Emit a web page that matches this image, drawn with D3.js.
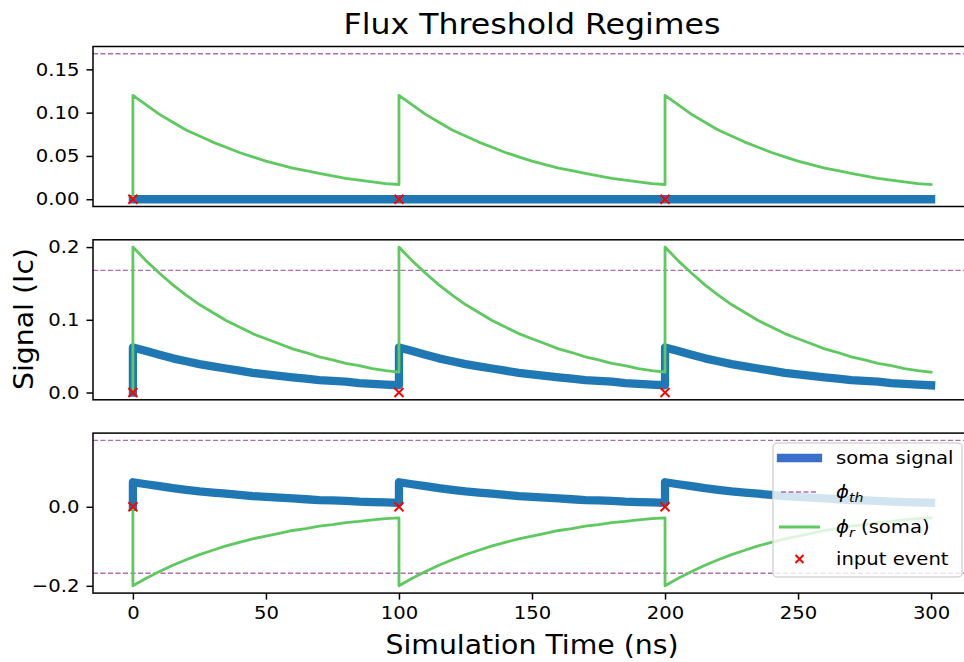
<!DOCTYPE html>
<html>
<head>
<meta charset="utf-8">
<script src="https://cdn.jsdelivr.net/npm/d3@7"></script>
<style>
  body { margin: 0; background: #fff; }
  text { font-family: "DejaVu Sans", sans-serif; fill: #000; }
</style>
</head>
<body>
<div id="chart"></div>
<script>
const width = 964, height = 662;

// shared sample times (ns); each event time appears twice: value before / after the jump
const time = [
  0, 0, 5, 10, 15, 20, 25, 30, 35, 40, 45, 50, 55, 60, 65, 70, 75, 80, 85, 90, 95,
  100, 100, 105, 110, 115, 120, 125, 130, 135, 140, 145, 150, 155, 160, 165, 170, 175, 180, 185, 190, 195,
  200, 200, 205, 210, 215, 220, 225, 230, 235, 240, 245, 250, 255, 260, 265, 270, 275, 280, 285, 290, 295,
  300
];

// panel 1: soma stays flat, phi_r below threshold
const somaTopTime = [0, 300];
const somaTop = [0, 0];
const phiTop = [
  0, 0.120, 0.109, 0.098, 0.089, 0.080, 0.073, 0.066, 0.060, 0.054, 0.049, 0.044, 0.040, 0.036, 0.033, 0.030, 0.027, 0.024, 0.022, 0.020, 0.018,
  0.017, 0.120, 0.109, 0.098, 0.089, 0.080, 0.073, 0.066, 0.060, 0.054, 0.049, 0.044, 0.040, 0.036, 0.033, 0.030, 0.027, 0.024, 0.022, 0.020, 0.018,
  0.017, 0.120, 0.109, 0.098, 0.089, 0.080, 0.073, 0.066, 0.060, 0.054, 0.049, 0.044, 0.040, 0.036, 0.033, 0.030, 0.027, 0.024, 0.022, 0.020, 0.018,
  0.017
];

// panel 2 / 3: soma responds
const soma = [
  0, 0.062, 0.057, 0.052, 0.047, 0.043, 0.039, 0.036, 0.033, 0.030, 0.027, 0.025, 0.023, 0.021, 0.019, 0.017, 0.016, 0.015, 0.013, 0.012, 0.011,
  0.010, 0.062, 0.057, 0.052, 0.047, 0.043, 0.039, 0.036, 0.033, 0.030, 0.027, 0.025, 0.023, 0.021, 0.019, 0.017, 0.016, 0.015, 0.013, 0.012, 0.011,
  0.010, 0.062, 0.057, 0.052, 0.047, 0.043, 0.039, 0.036, 0.033, 0.030, 0.027, 0.025, 0.023, 0.021, 0.019, 0.017, 0.016, 0.015, 0.013, 0.012, 0.011,
  0.010
];
const phiMid = [
  0, 0.200, 0.181, 0.164, 0.148, 0.134, 0.121, 0.110, 0.099, 0.090, 0.081, 0.074, 0.067, 0.060, 0.055, 0.049, 0.045, 0.040, 0.037, 0.033, 0.030,
  0.028, 0.200, 0.181, 0.164, 0.148, 0.134, 0.121, 0.110, 0.099, 0.090, 0.081, 0.074, 0.067, 0.060, 0.055, 0.049, 0.045, 0.040, 0.037, 0.033, 0.030,
  0.028, 0.200, 0.181, 0.164, 0.148, 0.134, 0.121, 0.110, 0.099, 0.090, 0.081, 0.074, 0.067, 0.060, 0.055, 0.049, 0.045, 0.040, 0.037, 0.033, 0.030,
  0.028
];
const phiBot = [
  0, -0.200, -0.181, -0.164, -0.148, -0.134, -0.121, -0.110, -0.099, -0.090, -0.081, -0.074, -0.067, -0.060, -0.055, -0.049, -0.045, -0.040, -0.037, -0.033, -0.030,
  -0.028, -0.200, -0.181, -0.164, -0.148, -0.134, -0.121, -0.110, -0.099, -0.090, -0.081, -0.074, -0.067, -0.060, -0.055, -0.049, -0.045, -0.040, -0.037, -0.033, -0.030,
  -0.028, -0.200, -0.181, -0.164, -0.148, -0.134, -0.121, -0.110, -0.099, -0.090, -0.081, -0.074, -0.067, -0.060, -0.055, -0.049, -0.045, -0.040, -0.037, -0.033, -0.030,
  -0.028
];

const eventTimes = [0, 100, 200];
const thresholdsTop = [0.168];
const thresholdsMid = [0.168];
const thresholdsBot = [0.168, -0.168];

const yTicksTop = [0, 0.05, 0.10, 0.15];
const yTicksMid = [0, 0.1, 0.2];
const yTicksBot = [-0.2, 0];
const xTicks = [0, 50, 100, 150, 200, 250, 300];

const panels = [
  { somaT: somaTopTime, soma: somaTop, phiT: time, phi: phiTop, th: thresholdsTop, ticks: yTicksTop, fmt: ".2f" },
  { somaT: time, soma: soma, phiT: time, phi: phiMid, th: thresholdsMid, ticks: yTicksMid, fmt: ".1f" },
  { somaT: time, soma: soma, phiT: time, phi: phiBot, th: thresholdsBot, ticks: yTicksBot, fmt: ".1f" }
];

const left = 93, plotW = 878, plotH = 160;
const tops = [46.5, 239.8, 433.1];
const blue = "#1f77b4", green = "#5ec95e", purple = "#b36ab3";
const stretch = "scale(1.09,1)";   // reference glyphs are a bit wider than DejaVu

const svg = d3.select("#chart").append("svg")
  .attr("width", width)
  .attr("height", height);

// matplotlib-like 5% margins
const pad = ([a, b]) => [a - (b - a) * 0.05, b + (b - a) * 0.05];

const x = d3.scaleLinear()
  .domain(pad(d3.extent(time)))
  .range([0, plotW]);

panels.forEach((p, i) => {
  const g = svg.append("g").attr("transform", `translate(${left},${tops[i]})`);

  const y = d3.scaleLinear()
    .domain(pad(d3.extent([...p.soma, ...p.phi, ...p.th])))
    .range([plotH, 0]);

  g.append("clipPath").attr("id", "clip" + i)
    .append("rect").attr("width", plotW).attr("height", plotH);

  const plot = g.append("g").attr("clip-path", `url(#clip${i})`);

  // thresholds
  plot.selectAll(".th").data(p.th).join("line")
    .attr("x1", 0).attr("x2", plotW)
    .attr("y1", d => y(d)).attr("y2", d => y(d))
    .attr("stroke", purple)
    .attr("stroke-width", 1.4)
    .attr("stroke-dasharray", "5,2.5");

  const line = d3.line().x(d => x(d[0])).y(d => y(d[1]));

  plot.append("path")
    .datum(d3.zip(p.somaT, p.soma))
    .attr("fill", "none")
    .attr("stroke", blue)
    .attr("stroke-width", 8.3)
    .attr("stroke-linecap", "square")
    .attr("stroke-linejoin", "round")
    .attr("d", line);

  plot.append("path")
    .datum(d3.zip(p.phiT, p.phi))
    .attr("fill", "none")
    .attr("stroke", green)
    .attr("stroke-width", 2.8)
    .attr("stroke-linecap", "square")
    .attr("stroke-linejoin", "round")
    .attr("d", line);

  plot.selectAll(".ev").data(eventTimes).join("path")
    .attr("transform", d => `translate(${x(d)},${y(0)})`)
    .attr("d", "M-4.5,-4.5L4.5,4.5M-4.5,4.5L4.5,-4.5")
    .attr("stroke", "red")
    .attr("stroke-width", 2);

  // AXIS
  const ya = g.append("g").call(d3.axisLeft(y).tickValues(p.ticks)
    .tickFormat(d3.format(p.fmt)).tickSize(6.5).tickPadding(6));
  ya.select(".domain").remove();
  ya.selectAll("line").attr("stroke-width", 1.5);
  ya.selectAll("text").style("font-size", "18px").attr("transform", stretch);

  if (i === 2) {
    const xa = g.append("g").attr("transform", `translate(0,${plotH})`)
      .call(d3.axisBottom(x).tickValues(xTicks).tickSize(6.5).tickPadding(7));
    xa.select(".domain").remove();
    xa.selectAll("line").attr("stroke-width", 1.5);
    xa.selectAll("text").style("font-size", "18px").attr("transform", stretch);
  }

  // spines
  g.append("rect")
    .attr("width", plotW).attr("height", plotH)
    .attr("fill", "none").attr("stroke", "#000").attr("stroke-width", 1.5);

  // LEGEND
  if (i === 2) {
    const lg = g.append("g").attr("transform", `translate(${773 - left},${443 - tops[i]})`);
    lg.append("rect")
      .attr("width", 189).attr("height", 134).attr("rx", 4)
      .attr("fill", "#fff").attr("fill-opacity", 0.8)
      .attr("stroke", "#d6d6d6").attr("stroke-width", 1.5);
    const rows = [15, 49, 84, 116];
    const hx0 = 8, hx1 = 45, tx = 63;
    lg.append("line").attr("x1", hx0).attr("x2", hx1).attr("y1", rows[0]).attr("y2", rows[0])
      .attr("stroke", "#3a6fcc").attr("stroke-width", 8.3).attr("stroke-linecap", "square");
    lg.append("line").attr("x1", hx0).attr("x2", hx1).attr("y1", rows[1]).attr("y2", rows[1])
      .attr("stroke", purple).attr("stroke-width", 1.4).attr("stroke-dasharray", "5,2.5");
    lg.append("line").attr("x1", hx0 - 2).attr("x2", hx1 + 2).attr("y1", rows[2]).attr("y2", rows[2])
      .attr("stroke", green).attr("stroke-width", 2.8);
    lg.append("path").attr("transform", `translate(${(hx0 + hx1) / 2},${rows[3]})`)
      .attr("d", "M-4,-4L4,4M-4,4L4,-4").attr("stroke", "red").attr("stroke-width", 2);

    const entry = r => lg.append("g").attr("transform", `translate(${tx},${r}) ${stretch}`)
      .append("text").attr("dy", "0.35em").style("font-size", "18px");

    entry(rows[0]).text("soma signal");
    const t1 = entry(rows[1]);
    t1.append("tspan").style("font-style", "italic").text("\u03d5");
    t1.append("tspan").style("font-style", "italic").style("font-size", "13px").attr("dy", "4").text("th");
    const t2 = entry(rows[2]);
    t2.append("tspan").style("font-style", "italic").text("\u03d5");
    t2.append("tspan").style("font-style", "italic").style("font-size", "13px").attr("dy", "4").text("r");
    t2.append("tspan").attr("dy", "-4").text(" (soma)");
    entry(rows[3]).text("input event");
  }
});

// titles
svg.append("text")
  .attr("transform", `translate(${left + plotW / 2},34) ${stretch}`)
  .attr("text-anchor", "middle").style("font-size", "29px")
  .text("Flux Threshold Regimes");

svg.append("text")
  .attr("transform", `translate(${left + plotW / 2},654) ${stretch}`)
  .attr("text-anchor", "middle").style("font-size", "26px")
  .text("Simulation Time (ns)");

svg.append("text")
  .attr("transform", `translate(33,319) rotate(-90) ${stretch}`)
  .attr("text-anchor", "middle").style("font-size", "26px")
  .text("Signal (Ic)");
</script>
</body>
</html>
